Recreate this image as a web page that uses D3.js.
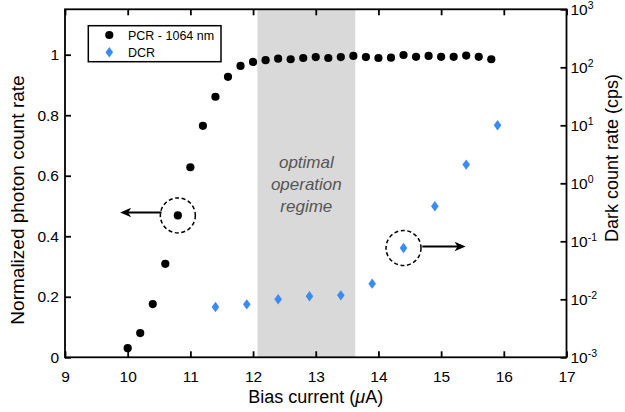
<!DOCTYPE html>
<html><head><meta charset="utf-8">
<script src="https://cdn.jsdelivr.net/npm/d3@7"></script>
<style>
html,body{margin:0;padding:0;background:#fff;}
svg text{font-family:"Liberation Sans",Arial,Helvetica,sans-serif;}
</style></head>
<body><svg id="c" width="625" height="412"></svg>
<script>
// ---- data ----
const pcrBias = [10.0,10.2,10.4,10.6,10.8,11.0,11.2,11.4,11.6,11.8,12.0,12.2,12.4,12.6,12.8,13.0,13.2,13.4,13.6,13.8,14.0,14.2,14.4,14.6,14.8,15.0,15.2,15.4,15.6,15.8];
const pcrValues = [0.030,0.080,0.176,0.309,0.469,0.628,0.765,0.861,0.927,0.963,0.976,0.982,0.987,0.985,0.989,0.992,0.989,0.992,0.996,0.992,0.989,0.990,0.999,0.993,0.996,0.993,0.993,0.997,0.993,0.985];
const dcrBias = [11.4,11.9,12.4,12.9,13.4,13.9,14.4,14.9,15.4,15.9];
const dcrValues = [0.00735,0.00818,0.0100,0.0113,0.0117,0.0186,0.0767,0.401,2.10,10.0];
const xTicks = [9,10,11,12,13,14,15,16,17];
const yLeftTicks = [0,0.2,0.4,0.6,0.8,1];
const yRightExponents = [-3,-2,-1,0,1,2,3];
const optimalRegime = [12.07,13.63];
const regimeLabel = ["optimal","operation","regime"];
const legendLabels = ["PCR - 1064 nm","DCR"];
// annotation: circled points and arrows (data coords)
const leftNoteIndex = 4;     // PCR point circled
const rightNoteIndex = 6;    // DCR point circled
const leftArrow = {y:0.4785, x0:10.54, x1:9.88};
const rightArrow = {y:0.0813, x0:14.70, x1:15.39};

// ---- layout ----
const svg = d3.select("#c");
const L=65, R=566.5, T=9.3, B=357.3;
const x = d3.scaleLinear().domain([9,17]).range([L,R]);
const yL = d3.scaleLinear().domain([0,1.15]).range([B,T]);
const yR = d3.scaleLog().domain([1e-3,1e3]).range([B,T]);
const blue = "#3a8cf5";
const fontTick = 15.5;

// shaded regime
svg.append("rect").attr("x",x(optimalRegime[0])).attr("y",T)
  .attr("width",x(optimalRegime[1])-x(optimalRegime[0])).attr("height",B-T)
  .attr("fill","#d9d9d9");
const rx = x((optimalRegime[0]+optimalRegime[1])/2);
svg.append("g").selectAll("text").data(regimeLabel).join("text")
  .attr("x",rx).attr("y",(d,i)=>168+i*22).attr("text-anchor","middle")
  .attr("font-style","italic").attr("font-size",17).attr("fill","#555").text(d=>d);

// axes
const ax = d3.axisBottom(x).tickValues(xTicks).tickSize(-6).tickPadding(14).tickFormat(d3.format("d"));
const gx = svg.append("g").attr("transform",`translate(0,${B})`).call(ax);
const axTop = d3.axisTop(x).tickValues(xTicks).tickSize(-6).tickFormat("");
const gxt = svg.append("g").attr("transform",`translate(0,${T})`).call(axTop);
const ayl = d3.axisLeft(yL).tickValues(yLeftTicks).tickSize(-6).tickPadding(6).tickFormat(d=>d===0?"0":(d===1?"1":d3.format(".1f")(d)));
const gyl = svg.append("g").attr("transform",`translate(${L},0)`).call(ayl);
const ayr = d3.axisRight(yR).tickValues(yRightExponents.map(e=>Math.pow(10,e))).tickSize(-6).tickPadding(3).tickFormat("");
const gyr = svg.append("g").attr("transform",`translate(${R},0)`).call(ayr);
[gx,gxt,gyl,gyr].forEach(g=>{
  g.select(".domain").remove();
  g.selectAll(".tick line").attr("stroke","#000").attr("stroke-width",1.8);
  g.selectAll("text").attr("font-size",fontTick).attr("fill","#000")
    .style("font-family",'"Liberation Sans",Arial,Helvetica,sans-serif');
});
gx.selectAll("text").attr("dy","0.71em");
// right log labels with superscripts
const rl = svg.append("g");
yRightExponents.forEach(e=>{
  const t = rl.append("text").attr("x",R+4).attr("y",yR(Math.pow(10,e))+5.5)
    .attr("font-size",fontTick).attr("fill","#000");
  t.append("tspan").text("10");
  t.append("tspan").attr("dy",-6).attr("font-size",10.5).text(String(e));
});
// frame
svg.append("rect").attr("x",L).attr("y",T).attr("width",R-L).attr("height",B-T)
  .attr("fill","none").attr("stroke","#000").attr("stroke-width",1.8);

// axis titles
svg.append("text").attr("x",(L+R)/2).attr("y",403).attr("text-anchor","middle")
  .attr("font-size",18).html("Bias current (<tspan font-style='italic'>μ</tspan>A)");
svg.append("text").attr("transform","translate(24,200) rotate(-90)").attr("text-anchor","middle")
  .attr("font-size",19).text("Normalized photon count rate");
svg.append("text").attr("transform","translate(618,158) rotate(-90)").attr("text-anchor","middle")
  .attr("font-size",18).text("Dark count rate (cps)");

// data marks
const diamond = "M0,-5.2L3.8,0L0,5.2L-3.8,0Z";
svg.append("g").selectAll("circle").data(pcrBias).join("circle")
  .attr("cx",d=>x(d)).attr("cy",(d,i)=>yL(pcrValues[i])).attr("r",4.1).attr("fill","#000");
svg.append("g").selectAll("path").data(dcrBias).join("path")
  .attr("d",diamond).attr("transform",(d,i)=>`translate(${x(d)},${yR(dcrValues[i])})`).attr("fill",blue);

// annotations
function ring(cx,cy){
  svg.append("circle").attr("cx",cx).attr("cy",cy).attr("r",17.5).attr("fill","none")
    .attr("stroke","#000").attr("stroke-width",1.5).attr("stroke-dasharray","4,2.6");
}
function arrow(x0,x1,y){
  const dir = x1>x0?1:-1;
  svg.append("line").attr("x1",x0).attr("x2",x1-dir*4).attr("y1",y).attr("y2",y)
    .attr("stroke","#000").attr("stroke-width",2);
  const hx=x1, bx=x1-dir*11, nx=x1-dir*8;
  svg.append("path").attr("d",`M${hx},${y}L${bx},${y-4.8}L${nx},${y}L${bx},${y+4.8}Z`).attr("fill","#000");
}
ring(x(pcrBias[leftNoteIndex]),yL(pcrValues[leftNoteIndex]));
arrow(x(leftArrow.x0),x(leftArrow.x1),yL(leftArrow.y));
ring(x(dcrBias[rightNoteIndex]),yR(dcrValues[rightNoteIndex]));
arrow(x(rightArrow.x0),x(rightArrow.x1),yR(rightArrow.y));

// legend
const lg = svg.append("g");
lg.append("rect").attr("x",88.3).attr("y",25.7).attr("width",132.7).attr("height",36)
  .attr("fill","#fff").attr("stroke","#000").attr("stroke-width",1.5);
lg.append("circle").attr("cx",109.3).attr("cy",35).attr("r",4.1).attr("fill","#000");
lg.append("path").attr("d",diamond).attr("transform","translate(109.3,52.3)").attr("fill",blue);
legendLabels.forEach((t,i)=>{
  lg.append("text").attr("x",128).attr("y",i?57:39.5).attr("font-size",12.5).text(t);
});
</script></body></html>
